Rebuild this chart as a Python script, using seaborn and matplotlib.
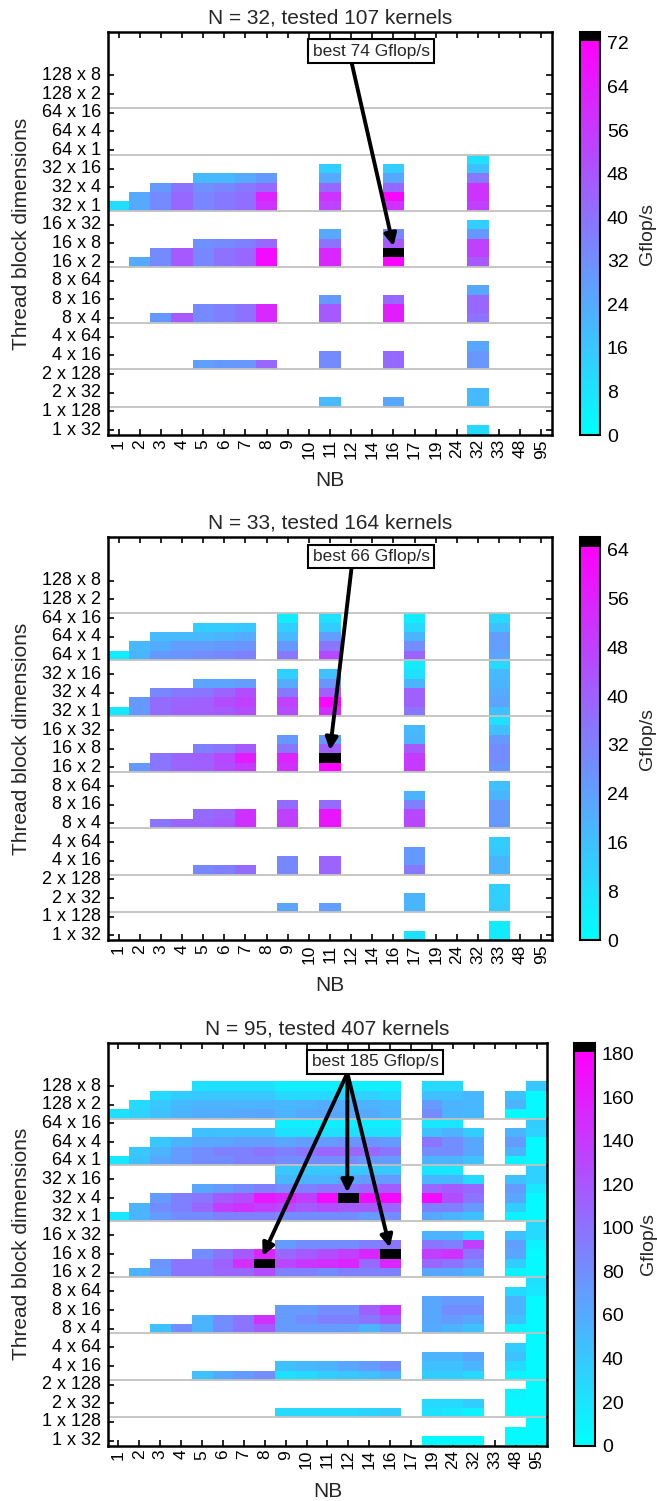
import numpy as np
import pandas as pd
import matplotlib
matplotlib.use("Agg")
import matplotlib.pyplot as plt
from matplotlib.colors import ListedColormap
import seaborn as sns

_ = None

# ---------------- data ----------------
nb_values = ["1", "2", "3", "4", "5", "6", "7", "8", "9", "10", "11", "12",
             "14", "16", "17", "19", "24", "32", "33", "48", "95"]

thread_blocks = ["128 x 8", "128 x 4", "128 x 2", "128 x 1",
                 "64 x 16", "64 x 8", "64 x 4", "64 x 2", "64 x 1",
                 "32 x 32", "32 x 16", "32 x 8", "32 x 4", "32 x 2", "32 x 1",
                 "16 x 64", "16 x 32", "16 x 16", "16 x 8", "16 x 4", "16 x 2",
                 "8 x 128", "8 x 64", "8 x 32", "8 x 16", "8 x 8", "8 x 4",
                 "4 x 128", "4 x 64", "4 x 32", "4 x 16", "4 x 8",
                 "2 x 128", "2 x 64", "2 x 32", "2 x 16",
                 "1 x 128", "1 x 64", "1 x 32"]

titles = ["N = 32, tested 107 kernels", "N = 33, tested 164 kernels", "N = 95, tested 407 kernels"]
best_gflops = [74, 66, 185]
cbar_ticks_n32 = [0, 8, 16, 24, 32, 40, 48, 56, 64, 72]
cbar_ticks_n33 = [0, 8, 16, 24, 32, 40, 48, 56, 64]
cbar_ticks_n95 = [0, 20, 40, 60, 80, 100, 120, 140, 160, 180]

gflops_n32 = [
    [_] * 21, [_] * 21, [_] * 21, [_] * 21,
    [_] * 21, [_] * 21, [_] * 21, [_] * 21, [_] * 21,
    [_, _, _, _, _, _, _, _, _, _, _, _, _, _, _, _, _, 9, _, _, _],
    [_, _, _, _, _, _, _, _, _, _, 14, _, _, 14, _, _, _, 18, _, _, _],
    [_, _, _, _, 20, 20, 24, 29, _, _, 24, _, _, 25, _, _, _, 38, _, _, _],
    [_, _, 29, 40, 31, 34, 38, 43, _, _, 43, _, _, 43, _, _, _, 58, _, _, _],
    [_, 24, 33, 43, 34, 38, 41, 63, _, _, 58, _, _, 70, _, _, _, 58, _, _, _],
    [10, 24, 33, 43, 34, 38, 41, 58, _, _, 53, _, _, 58, _, _, _, 54, _, _, _],
    [_] * 21,
    [_, _, _, _, _, _, _, _, _, _, _, _, _, _, _, _, _, 14, _, _, _],
    [_, _, _, _, _, _, _, _, _, _, 24, _, _, 34, _, _, _, 29, _, _, _],
    [_, _, _, _, 31, 33, 36, 43, _, _, 40, _, _, 47, _, _, _, 54, _, _, _],
    [_, _, 33, 47, 34, 40, 43, 69, _, _, 61, _, _, 74, _, _, _, 54, _, _, _],
    [_, 24, 33, 47, 34, 40, 43, 69, _, _, 61, _, _, 71, _, _, _, 47, _, _, _],
    [_] * 21,
    [_] * 21,
    [_, _, _, _, _, _, _, _, _, _, _, _, _, _, _, _, _, 25, _, _, _],
    [_, _, _, _, _, _, _, _, _, _, 29, _, _, 43, _, _, _, 43, _, _, _],
    [_, _, _, _, 33, 36, 40, 61, _, _, 47, _, _, 64, _, _, _, 43, _, _, _],
    [_, _, 29, 47, 33, 36, 40, 61, _, _, 47, _, _, 64, _, _, _, 40, _, _, _],
    [_] * 21,
    [_] * 21,
    [_, _, _, _, _, _, _, _, _, _, _, _, _, _, _, _, _, 25, _, _, _],
    [_, _, _, _, _, _, _, _, _, _, 33, _, _, 43, _, _, _, 30, _, _, _],
    [_, _, _, _, 27, 29, 30, 43, _, _, 33, _, _, 43, _, _, _, 30, _, _, _],
    [_] * 21,
    [_] * 21,
    [_, _, _, _, _, _, _, _, _, _, _, _, _, _, _, _, _, 20, _, _, _],
    [_, _, _, _, _, _, _, _, _, _, 20, _, _, 25, _, _, _, 20, _, _, _],
    [_] * 21,
    [_] * 21,
    [_, _, _, _, _, _, _, _, _, _, _, _, _, _, _, _, _, 11, _, _, _],
]

gflops_n33 = [
    [_] * 21, [_] * 21, [_] * 21, [_] * 21,
    [_, _, _, _, _, _, _, _, 5, _, 8, _, _, _, 5, _, _, _, 10, _, _],
    [_, _, _, _, 13, 13, 14, _, 12, _, 13, _, _, _, 10, _, _, _, 16, _, _],
    [_, _, 18, 18, 18, 19, 21, _, 18, _, 25, _, _, _, 19, _, _, _, 25, _, _],
    [_, 18, 21, 25, 25, 26, 27, _, 26, _, 35, _, _, _, 29, _, _, _, 25, _, _],
    [5, 19, 26, 27, 29, 30, 32, _, 34, _, 46, _, _, _, 39, _, _, _, 23, _, _],
    [_, _, _, _, _, _, _, _, _, _, _, _, _, _, 5, _, _, _, 10, _, _],
    [_, _, _, _, _, _, _, _, 12, _, 16, _, _, _, 8, _, _, _, 18, _, _],
    [_, _, _, _, 23, 23, 25, _, 21, _, 27, _, _, _, 19, _, _, _, 19, _, _],
    [_, _, 30, 34, 35, 39, 45, _, 34, _, 40, _, _, _, 40, _, _, _, 21, _, _],
    [_, 26, 37, 39, 40, 45, 48, _, 48, _, 63, _, _, _, 40, _, _, _, 23, _, _],
    [6, 26, 37, 40, 40, 42, 45, _, 45, _, 53, _, _, _, 35, _, _, _, 16, _, _],
    [_, _, _, _, _, _, _, _, _, _, _, _, _, _, _, _, _, _, 8, _, _],
    [_, _, _, _, _, _, _, _, _, _, _, _, _, _, 18, _, _, _, 16, _, _],
    [_, _, _, _, _, _, _, _, 26, _, 26, _, _, _, 19, _, _, _, 26, _, _],
    [_, _, _, _, 32, 35, 42, _, 35, _, 40, _, _, _, 42, _, _, _, 29, _, _],
    [_, _, 35, 39, 40, 46, 57, _, 55, _, 66, _, _, _, 50, _, _, _, 29, _, _],
    [_, 26, 35, 39, 40, 45, 50, _, 52, _, 63, _, _, _, 50, _, _, _, 27, _, _],
    [_] * 21,
    [_, _, _, _, _, _, _, _, _, _, _, _, _, _, _, _, _, _, 16, _, _],
    [_, _, _, _, _, _, _, _, _, _, _, _, _, _, 19, _, _, _, 19, _, _],
    [_, _, _, _, _, _, _, _, 37, _, 37, _, _, _, 32, _, _, _, 26, _, _],
    [_, _, _, _, 37, 39, 52, _, 48, _, 59, _, _, _, 46, _, _, _, 26, _, _],
    [_, _, 35, 39, 39, 42, 52, _, 48, _, 59, _, _, _, 46, _, _, _, 26, _, _],
    [_] * 21,
    [_, _, _, _, _, _, _, _, _, _, _, _, _, _, _, _, _, _, 13, _, _],
    [_, _, _, _, _, _, _, _, _, _, _, _, _, _, 26, _, _, _, 14, _, _],
    [_, _, _, _, _, _, _, _, 30, _, 39, _, _, _, 26, _, _, _, 19, _, _],
    [_, _, _, _, 30, 32, 37, _, 30, _, 39, _, _, _, 34, _, _, _, 19, _, _],
    [_] * 21,
    [_, _, _, _, _, _, _, _, _, _, _, _, _, _, _, _, _, _, 12, _, _],
    [_, _, _, _, _, _, _, _, _, _, _, _, _, _, 19, _, _, _, 12, _, _],
    [_, _, _, _, _, _, _, _, 23, _, 25, _, _, _, 19, _, _, _, 13, _, _],
    [_] * 21,
    [_, _, _, _, _, _, _, _, _, _, _, _, _, _, _, _, _, _, 5, _, _],
    [_, _, _, _, _, _, _, _, _, _, _, _, _, _, 8, _, _, _, 5, _, _],
]

gflops_n95 = [
    [_, _, _, _, 22, 22, 22, 22, 13, 13, 13, 13, 13, 13, _, 27, 27, _, _, _, 40],
    [_, _, 27, 36, 40, 40, 40, 40, 27, 27, 27, 33, 33, 27, _, 45, 45, 51, _, 45, 5],
    [_, 27, 40, 51, 54, 54, 54, 54, 51, 54, 58, 58, 54, 51, _, 72, 54, 51, _, 54, 5],
    [22, 33, 45, 54, 58, 58, 60, 63, 54, 60, 63, 63, 60, 54, _, 81, 54, 51, _, 5, 5],
    [_, _, _, _, _, _, _, _, 13, 13, 13, 13, 13, 13, _, 18, 18, _, _, _, 36],
    [_, _, _, _, 45, 45, 45, 45, 22, 22, 22, 22, 22, 22, _, 45, 54, 36, _, 54, 33],
    [_, _, 40, 54, 63, 63, 69, 69, 63, 69, 72, 76, 76, 72, _, 99, 81, 63, _, 72, 5],
    [_, 40, 54, 72, 81, 90, 90, 99, 90, 99, 108, 108, 108, 99, _, 81, 81, 63, _, 54, 5],
    [18, 45, 63, 72, 81, 81, 90, 90, 81, 81, 81, 81, 72, 72, _, 54, 54, 45, _, 9, 5],
    [_, _, _, _, _, _, _, _, 40, 40, 40, 40, 40, 40, _, 18, 18, _, _, _, 33],
    [_, _, _, _, _, _, _, _, 51, 54, 54, 63, 72, 72, _, 51, 51, 27, _, 45, 33],
    [_, _, _, _, 63, 72, 81, 90, 81, 90, 99, 99, 108, 117, _, 108, 117, 108, _, 72, 18],
    [_, _, 72, 90, 99, 117, 126, 163, 154, 136, 172, 185, 172, 175, _, 172, 126, 99, _, 63, 5],
    [_, 54, 81, 90, 108, 136, 145, 136, 126, 117, 126, 117, 117, 108, _, 90, 90, 72, _, 36, 5],
    [18, 54, 72, 81, 81, 90, 90, 90, 81, 81, 81, 81, 72, 81, _, 63, 54, 45, _, 9, 5],
    [_] * 20 + [27],
    [_, _, _, _, _, _, _, _, _, _, _, _, _, _, _, 54, 54, 27, _, 45, 27],
    [_, _, _, _, _, _, _, _, 72, 81, 81, 81, 90, 99, _, 99, 90, 136, _, 69, 9],
    [_, _, _, _, 81, 99, 117, 154, 108, 117, 126, 136, 154, 185, _, 136, 145, 99, _, 63, 5],
    [_, _, 76, 99, 99, 112, 148, 185, 130, 141, 148, 154, 105, 154, _, 108, 99, 81, _, 36, 5],
    [_, 54, 72, 99, 99, 108, 108, 126, 90, 90, 81, 90, 90, 90, _, 63, 63, 54, _, 9, 5],
    [_] * 20 + [22],
    [_] * 19 + [27, 18],
    [_, _, _, _, _, _, _, _, _, _, _, _, _, _, _, 63, 72, 72, _, 54, 5],
    [_, _, _, _, _, _, _, _, 72, 72, 81, 81, 112, 141, _, 63, 81, 81, _, 54, 5],
    [_, _, _, _, 54, 81, 99, 145, 72, 81, 90, 90, 99, 117, _, 63, 72, 63, _, 45, 5],
    [_, _, 45, 81, 54, 81, 99, 117, 72, 72, 72, 69, 54, 72, _, 60, 54, 45, _, 9, 5],
    [_] * 20 + [5],
    [_] * 19 + [36, 5],
    [_, _, _, _, _, _, _, _, _, _, _, _, _, _, _, 54, 54, 63, _, 45, 4],
    [_, _, _, _, _, _, _, _, 45, 51, 54, 63, 72, 81, _, 45, 45, 54, _, 27, 4],
    [_, _, _, _, 45, 60, 72, 81, 22, 27, 36, 40, 45, 54, _, 36, 36, 27, _, 9, 4],
    [_] * 20 + [4],
    [_] * 19 + [9, 4],
    [_] * 15 + [27, 27, 36, _, 5, 4],
    [_, _, _, _, _, _, _, _, 27, 27, 27, 27, 31, 36, _, 22, 18, 9, _, 5, 4],
    [_] * 20 + [4],
    [_] * 19 + [4, 4],
    [_] * 15 + [4, 4, 4, _, 4, 4],
]

# ---------------- styling ----------------
sns.set_theme(style="white")
plt.rcParams["font.family"] = ["Liberation Sans", "DejaVu Sans"]

cool = plt.get_cmap("cool")(np.linspace(0, 1, 250))
cmap = ListedColormap(np.vstack([cool, np.tile([0.0, 0.0, 0.0, 1.0], (6, 1))]))

fig = plt.figure(figsize=(6.57, 15.01), dpi=100)

panels = [
    dict(data=gflops_n32, ticks=cbar_ticks_n32,
         ax=[0.16438, 0.71019, 0.67580, 0.26849], cax=[0.88280, 0.71019, 0.03044, 0.26849],
         box=(12.45, -2.1), start=(11.52, -0.9), tips=[(13.5, 18.8)], cbpad=7),
    dict(data=gflops_n33, ticks=cbar_ticks_n33,
         ax=[0.16438, 0.37355, 0.67580, 0.26849], cax=[0.88280, 0.37355, 0.03044, 0.26849],
         box=(12.45, -2.1), start=(11.52, -0.9), tips=[(10.5, 18.65)], cbpad=7),
    dict(data=gflops_n95, ticks=cbar_ticks_n95,
         ax=[0.16438, 0.03691, 0.66819, 0.26849], cax=[0.87367, 0.03691, 0.03196, 0.26849],
         box=(12.77, -2.1), start=(11.45, -0.9), tips=[(7.4, 18.7), (11.45, 11.9), (13.48, 17.8)],
         cbpad=4),
]

n = len(thread_blocks)
for i, p in enumerate(panels):
    ax = fig.add_axes(p["ax"])
    cax = fig.add_axes(p["cax"])
    df = pd.DataFrame(np.array(p["data"], dtype=float), index=thread_blocks, columns=nb_values)
    sns.heatmap(df, ax=ax, cmap=cmap, vmin=0, vmax=best_gflops[i], cbar_ax=cax,
                cbar_kws={"ticks": p["ticks"]}, linewidths=0)

    ax.set_xlim(0, len(nb_values))
    ax.set_ylim(n + 0.03, -4.16)

    # group separators
    for k in range(1, n):
        if thread_blocks[k].split(" x ")[0] != thread_blocks[k - 1].split(" x ")[0]:
            ax.axhline(k, color="#c2c2c2", lw=1.3, zorder=3)

    ax.set_xticks(np.arange(len(nb_values)) + 0.5)
    ax.set_xticklabels(nb_values, rotation=90, fontsize=12.5)
    ax.set_yticks(np.arange(0, n, 2) + 0.5)
    ax.set_yticklabels(thread_blocks[::2], rotation=0, fontsize=13)
    ax.tick_params(axis="both", which="major", direction="in", length=4.5, width=1.2,
                   top=True, right=True, bottom=True, left=True,
                   labeltop=False, labelright=False, colors="black")
    ax.tick_params(axis="y", pad=5)
    ax.tick_params(axis="x", pad=3)
    for sp in ax.spines.values():
        sp.set_visible(True)
        sp.set_linewidth(1.8)
        sp.set_color("black")
        sp.set_zorder(10)

    ax.set_title(titles[i], fontsize=15, pad=6)
    ax.set_xlabel("NB", fontsize=15, labelpad=9)
    ax.set_ylabel("Thread block dimensions", fontsize=15, labelpad=8)

    # annotation
    for tip in p["tips"]:
        ax.annotate("", xy=tip, xytext=p["start"], zorder=5,
                    arrowprops=dict(arrowstyle="-|>,head_length=0.4,head_width=0.2",
                                    mutation_scale=18, lw=2.8, color="black",
                                    shrinkA=0, shrinkB=0))
    ax.text(p["box"][0], p["box"][1], f"best {best_gflops[i]} Gflop/s", ha="center",
            va="center", fontsize=12.5, zorder=6,
            bbox=dict(boxstyle="square,pad=0.25", fc="white", ec="black", lw=1.5))

    cb = ax.collections[0].colorbar
    cb.outline.set_visible(True)
    cb.outline.set_linewidth(1.5)
    cb.outline.set_edgecolor("black")
    cax.tick_params(direction="in", length=4, width=1.2, labelsize=14, pad=5,
                    right=True, colors="black")
    cb.set_label("Gflop/s", fontsize=14, labelpad=p["cbpad"])

fig.savefig("out.png", dpi=100)
